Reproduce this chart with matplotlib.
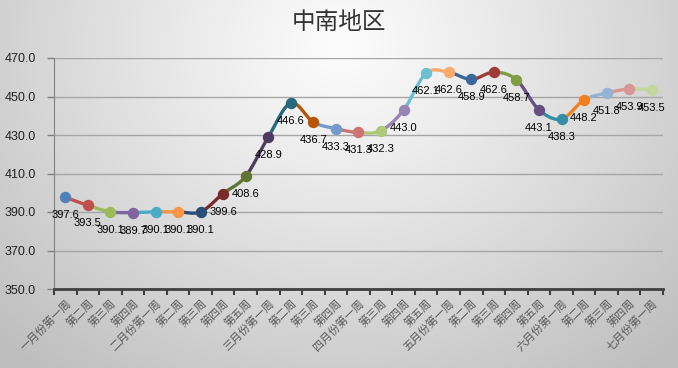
import numpy as np
import matplotlib
matplotlib.use("Agg")
import matplotlib.pyplot as plt

plt.rcParams["font.family"] = ["Liberation Sans", "Noto Sans CJK SC", "DejaVu Sans"]

# datos
titulo = "中南地区"
semanas = [
    "一月份第一周", "第二周", "第三周", "第四周",
    "二月份第一周", "第二周", "第三周", "第四周", "第五周",
    "三月份第一周", "第二周", "第三周", "第四周",
    "四月份第一周", "第三周", "第四周", "第五周",
    "五月份第一周", "第二周", "第三周", "第四周", "第五周",
    "六月份第一周", "第二周", "第三周", "第四周",
    "七月份第一周",
]
precios = [
    397.6, 393.5, 390.1, 389.7, 390.1, 390.1, 390.1, 399.6, 408.6,
    428.9, 446.6, 436.7, 433.3, 431.3, 432.3, 443.0, 462.1, 462.6,
    458.9, 462.6, 458.7, 443.1, 438.3, 448.2, 451.8, 453.9, 453.5,
]
y_ticks = [350, 370, 390, 410, 430, 450, 470]

colores = [
    "#4F81BD", "#C0504D", "#9BBB59", "#8064A2", "#4BACC6", "#F79646",
    "#2C4D75", "#772C2A", "#5F7530", "#4D3B62", "#276A7C", "#B65708",
    "#729ACA", "#CD7371", "#AFC97A", "#9983B5", "#6FBDD1", "#F9AB6B",
    "#3A679C", "#9F3B38", "#7F9D43", "#664F83", "#358EA6", "#F57F1C",
    "#95B3D7", "#D99694", "#C3D69B",
]

W, H = 678, 368
fig = plt.figure(figsize=(W / 100, H / 100), dpi=100)

# fondo degradado
yy, xx = np.mgrid[0:H, 0:W]
d = np.sqrt(((xx - 340) / 480.0) ** 2 + ((yy - 45) / 420.0) ** 2)
v = 252 - 62 * np.clip(d, 0, 1) ** 1.1
fondo = np.dstack([v, v, v]).astype(np.uint8)
fig.figimage(fondo, 0, 0, zorder=-10, origin="upper")
fig.patch.set_alpha(0)

ax = fig.add_axes([54 / W, 1 - 289 / H, (663 - 54) / W, (289 - 58) / H])
ax.set_facecolor("none")

x = np.arange(len(precios))
y = np.array(precios)


def bezier(i):
    # segmento suavizado entre i e i+1 (tipo Catmull-Rom)
    p0 = np.array([x[max(i - 1, 0)], y[max(i - 1, 0)]])
    p1 = np.array([x[i], y[i]])
    p2 = np.array([x[i + 1], y[i + 1]])
    p3 = np.array([x[min(i + 2, len(x) - 1)], y[min(i + 2, len(x) - 1)]])
    c1 = p1 + (p2 - p0) / 6.0
    c2 = p2 - (p3 - p1) / 6.0
    t = np.linspace(0, 1, 30)[:, None]
    pts = ((1 - t) ** 3) * p1 + 3 * ((1 - t) ** 2) * t * c1 + 3 * (1 - t) * t ** 2 * c2 + t ** 3 * p2
    return pts[:, 0], pts[:, 1]


for i in range(len(x) - 1):
    bx, by = bezier(i)
    ax.plot(bx, by, color=colores[i + 1], lw=2.4, solid_capstyle="round", zorder=3)

for i in range(len(x)):
    ax.plot(x[i], y[i], "o", color=colores[i], ms=7.2, zorder=4)
    ax.annotate(f"{precios[i]:.1f}", (x[i], y[i]), xytext=(0, -18), textcoords="offset pixels",
                ha="center", va="center", fontsize=8, color="black", zorder=5)

ax.set_xlim(-0.5, len(x) - 0.5)
ax.set_ylim(350, 470)
ax.set_yticks(y_ticks)
ax.set_yticklabels([f"{t:.1f}" for t in y_ticks], fontsize=9, color="#222222")
ax.yaxis.grid(True, color="#A6A6A6", lw=1)
ax.set_axisbelow(True)

ax.set_xticks(np.arange(-0.5, len(x), 1.0))
ax.set_xticklabels([])
ax.set_xticks(x, minor=True)
ax.set_xticklabels(semanas, minor=True, rotation=45, ha="right", va="top", rotation_mode="anchor",
                   fontsize=8, color="#595959", family=["Noto Sans CJK SC", "DejaVu Sans"])
ax.tick_params(axis="x", which="minor", length=0, pad=6)
ax.tick_params(axis="x", which="major", length=4, width=1.5, color="#404040", direction="out")
ax.tick_params(axis="y", length=5, width=1, color="#808080", pad=8)

for s in ["top", "right"]:
    ax.spines[s].set_visible(False)
ax.spines["left"].set_color("#808080")
ax.spines["bottom"].set_color("#404040")
ax.spines["bottom"].set_linewidth(2)

fig.text(0.5, 1 - 22 / H, titulo, ha="center", va="center", fontsize=17, color="#333333",
         family=["Noto Sans CJK SC", "DejaVu Sans"])

fig.savefig("out.png", dpi=100)
